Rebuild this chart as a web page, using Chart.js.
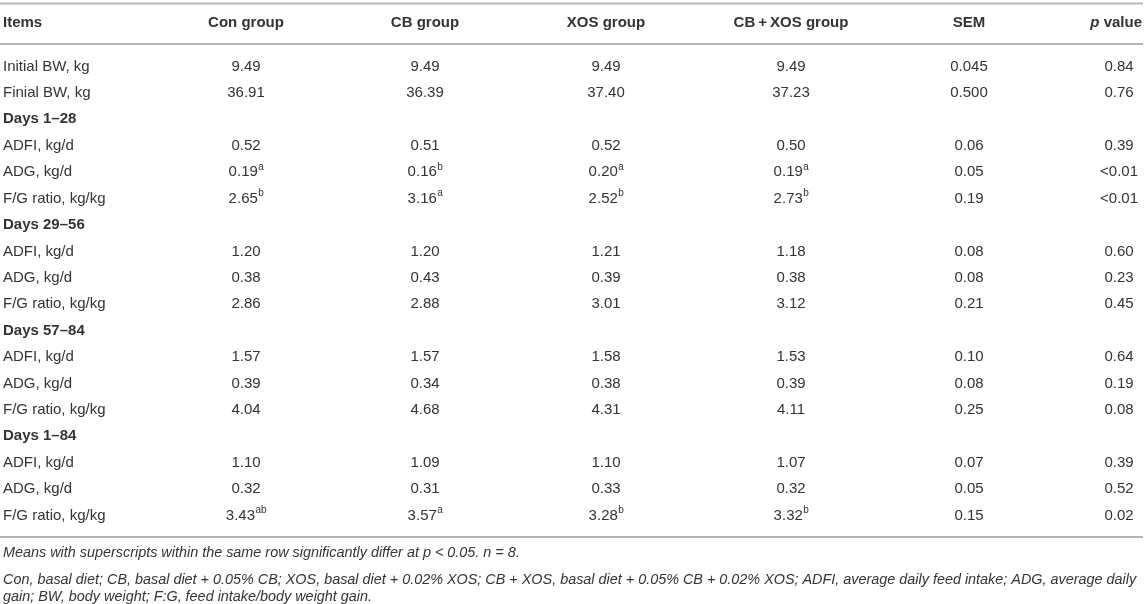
<!DOCTYPE html>
<html>
<head>
<meta charset="utf-8">
<script src="https://cdn.jsdelivr.net/npm/chart.js@4.4.1/dist/chart.umd.min.js"></script>
<style>
  html, body { margin: 0; padding: 0; background: #fff; }
  #wrap { width: 1145px; height: 604px; position: relative; }
</style>
</head>
<body>
<div id="wrap"><canvas id="c"></canvas></div>
<script>
// ---------- DATA ----------
const rowLabels = [
  "Initial BW, kg", "Finial BW, kg",
  "Days 1–28", "ADFI, kg/d", "ADG, kg/d", "F/G ratio, kg/kg",
  "Days 29–56", "ADFI, kg/d", "ADG, kg/d", "F/G ratio, kg/kg",
  "Days 57–84", "ADFI, kg/d", "ADG, kg/d", "F/G ratio, kg/kg",
  "Days 1–84", "ADFI, kg/d", "ADG, kg/d", "F/G ratio, kg/kg"
];
const sectionRows = [2, 6, 10, 14];

const columnHeaders = ["Con group", "CB group", "XOS group", "CB\u2009+\u2009XOS group", "SEM", "p value"];

const conValues   = ["9.49","36.91",null,"0.52","0.19","2.65",null,"1.20","0.38","2.86",null,"1.57","0.39","4.04",null,"1.10","0.32","3.43"];
const conSup      = ["","","","","a","b","","","","","","","","","","","","ab"];
const cbValues    = ["9.49","36.39",null,"0.51","0.16","3.16",null,"1.20","0.43","2.88",null,"1.57","0.34","4.68",null,"1.09","0.31","3.57"];
const cbSup       = ["","","","","b","a","","","","","","","","","","","","a"];
const xosValues   = ["9.49","37.40",null,"0.52","0.20","2.52",null,"1.21","0.39","3.01",null,"1.58","0.38","4.31",null,"1.10","0.33","3.28"];
const xosSup      = ["","","","","a","b","","","","","","","","","","","","b"];
const cbxosValues = ["9.49","37.23",null,"0.50","0.19","2.73",null,"1.18","0.38","3.12",null,"1.53","0.39","4.11",null,"1.07","0.32","3.32"];
const cbxosSup    = ["","","","","a","b","","","","","","","","","","","","b"];
const semValues   = ["0.045","0.500",null,"0.06","0.05","0.19",null,"0.08","0.08","0.21",null,"0.10","0.08","0.25",null,"0.07","0.05","0.15"];
const pValues     = ["0.84","0.76",null,"0.39","<0.01","<0.01",null,"0.60","0.23","0.45",null,"0.64","0.19","0.08",null,"0.39","0.52","0.02"];

const footnotes = [
  "Means with superscripts within the same row significantly differ at p < 0.05. n = 8.",
  "Con, basal diet; CB, basal diet + 0.05% CB; XOS, basal diet + 0.02% XOS; CB + XOS, basal diet + 0.05% CB + 0.02% XOS; ADFI, average daily feed intake; ADG, average daily",
  "gain; BW, body weight; F:G, feed intake/body weight gain."
];

// ---------- LAYOUT (pixels) ----------
const LABEL_X = 3;
const COL_X = [246, 425, 606, 791, 969, 1119];
const P_HEADER_RIGHT = 1142;
const HEADER_Y = 22.5;
const LINE_YS = [3.5, 44, 537];
const FOOT_YS = [553, 580, 597];
const TEXT = '#333333';
const FONT = '"Liberation Sans", Arial, Helvetica, sans-serif';

const columns = [
  {v: conValues, s: conSup},
  {v: cbValues, s: cbSup},
  {v: xosValues, s: xosSup},
  {v: cbxosValues, s: cbxosSup},
  {v: semValues, s: null},
  {v: pValues, s: null}
];

const datasets = columns.map((col, c) => ({
  label: columnHeaders[c],
  data: col.v.map((val, r) => ({x: COL_X[c], y: r})),
  pointRadius: 0,
  pointHoverRadius: 0,
  showLine: false
}));

function drawCell(ctx, x, y, main, sup) {
  ctx.font = '15px ' + FONT;
  const w1 = ctx.measureText(main).width;
  let w2 = 0;
  if (sup) { ctx.font = '10px ' + FONT; w2 = ctx.measureText(sup).width; }
  const start = x - (w1 + w2) / 2;
  ctx.textAlign = 'left';
  ctx.font = '15px ' + FONT;
  ctx.fillText(main, start, y);
  if (sup) {
    ctx.font = '10px ' + FONT;
    ctx.fillText(sup, start + w1 + 0.5, y - 5);
  }
}

const tablePlugin = {
  id: 'tablePlugin',
  afterDatasetsDraw(chart) {
    const ctx = chart.ctx;
    const xs = chart.scales.x, ys = chart.scales.y;
    ctx.save();
    ctx.fillStyle = TEXT;
    ctx.textBaseline = 'middle';

    // rules
    ctx.strokeStyle = '#b4b4b4';
    ctx.lineWidth = 2;
    LINE_YS.forEach(y => {
      ctx.beginPath();
      ctx.moveTo(xs.getPixelForValue(0), y);
      ctx.lineTo(xs.getPixelForValue(1143), y);
      ctx.stroke();
    });

    // header
    ctx.font = 'bold 15px ' + FONT;
    ctx.textAlign = 'left';
    ctx.fillText("Items", xs.getPixelForValue(LABEL_X), HEADER_Y);
    columnHeaders.forEach((h, c) => {
      const x = xs.getPixelForValue(COL_X[c]);
      if (h === "p value") {
        ctx.font = 'bold italic 15px ' + FONT;
        const wp = ctx.measureText("p").width;
        ctx.font = 'bold 15px ' + FONT;
        const wr = ctx.measureText(" value").width;
        const s = xs.getPixelForValue(P_HEADER_RIGHT) - (wp + wr);
        ctx.textAlign = 'left';
        ctx.font = 'bold italic 15px ' + FONT;
        ctx.fillText("p", s, HEADER_Y);
        ctx.font = 'bold 15px ' + FONT;
        ctx.fillText(" value", s + wp, HEADER_Y);
      } else {
        ctx.textAlign = 'center';
        ctx.font = 'bold 15px ' + FONT;
        ctx.fillText(h, x, HEADER_Y);
      }
    });

    // row labels
    rowLabels.forEach((lab, r) => {
      ctx.textAlign = 'left';
      ctx.font = (sectionRows.includes(r) ? 'bold ' : '') + '15px ' + FONT;
      ctx.fillText(lab, xs.getPixelForValue(LABEL_X), ys.getPixelForValue(r));
    });

    // cells
    chart.data.datasets.forEach((ds, c) => {
      const meta = chart.getDatasetMeta(c);
      const col = columns[c];
      meta.data.forEach((pt, r) => {
        const val = col.v[r];
        if (val == null) return;
        drawCell(ctx, pt.x, pt.y, val, col.s ? col.s[r] : '');
      });
    });

    // footnotes
    ctx.font = 'italic 14.4px ' + FONT;
    ctx.textAlign = 'left';
    footnotes.forEach((f, i) => ctx.fillText(f, xs.getPixelForValue(LABEL_X), FOOT_YS[i]));
    ctx.restore();
  }
};

new Chart(document.getElementById('c'), {
  type: 'scatter',
  data: { datasets },
  options: {
    responsive: true,
    maintainAspectRatio: false,
    animation: false,
    events: [],
    layout: { padding: { top: 66.5, bottom: 88.5, left: 0, right: 0 } },
    plugins: { legend: { display: false }, tooltip: { enabled: false } },
    scales: {
      x: { type: 'linear', min: 0, max: 1145, display: false },
      y: { type: 'linear', min: 0, max: 17, reverse: true, display: false }
    }
  },
  plugins: [tablePlugin]
});
</script>
</body>
</html>
